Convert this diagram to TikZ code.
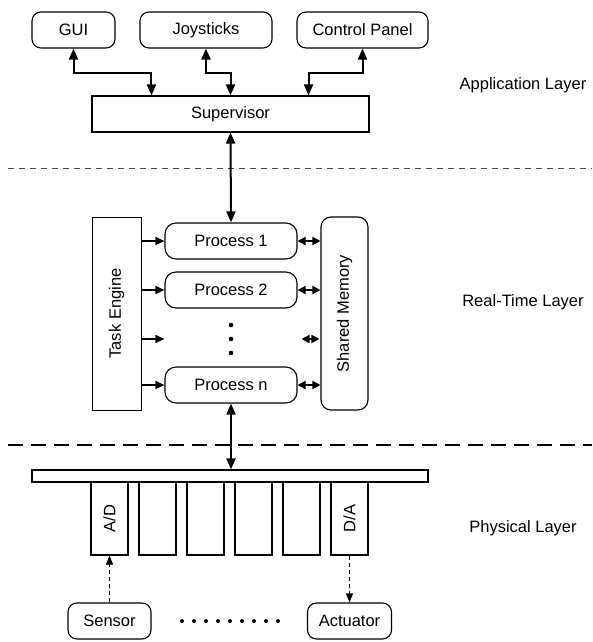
\documentclass[tikz,border=0pt]{standalone}
\usepackage{fontspec}
\setmainfont{Liberation Sans}
\usetikzlibrary{arrows.meta}

\begin{document}
\begin{tikzpicture}[x=1pt,y=-1pt,
  every node/.style={font=\fontsize{16.5}{19}\selectfont, inner sep=0pt},
  box/.style={draw, line width=1.1pt, rectangle},
  rbox/.style={box, rounded corners=9pt},
  dbl/.style={line width=2pt, {Triangle[length=11pt,width=9pt]}-{Triangle[length=11pt,width=9pt]}},
  sdbl/.style={line width=1.8pt, {Triangle[length=8pt,width=8pt]}-{Triangle[length=8pt,width=8pt]}},
  one/.style={line width=1.6pt, -{Triangle[length=9pt,width=8pt]}},
  sig/.style={line width=1.1pt, dash pattern=on 4pt off 3pt, -{Triangle[length=9pt,width=7pt]}},
  slot/.style={box, minimum width=37pt, minimum height=73pt},
  layer/.style={}
]
\useasboundingbox (0,0) rectangle (592,642);

% application layer
\node[rbox, minimum width=83pt, minimum height=36pt] (gui) at (73.5,30) {GUI};
\node[rbox, minimum width=132pt, minimum height=36pt] (joy) at (206,30) {Joysticks};
\node[rbox, minimum width=131pt, minimum height=36pt] (cp) at (362.5,30) {Control Panel};
\node[box, minimum width=277pt, minimum height=36pt] (sup) at (230.5,114) {Supervisor};

\draw[dbl] (gui.south) -- ++(0,24) -| ([xshift=60pt]sup.north west);
\draw[dbl] (joy.south) -- ++(0,24) -| (sup.north);
\draw[dbl] (cp.south) -- ++(0,24) -| ([xshift=-61pt]sup.north east);

\node[layer] (app) at (523,85) {Application Layer};

% layer separators
\draw[line width=1pt, gray!60!black, dash pattern=on 6pt off 5pt] (8,168) -- (592,168);
\draw[line width=1.3pt, dash pattern=on 15pt off 8pt] (8,445) -- (592,445);

% real-time layer
\node[box, line width=0.9pt, minimum width=49pt, minimum height=193pt] (te) at (116.5,313.5) {};
\node[rotate=90] at (te.center) {Task Engine};
\node[rbox, rounded corners=10pt, minimum width=47pt, minimum height=193pt] (sm) at (344.5,313.5) {};
\node[rotate=90] at (sm.center) {Shared Memory};

\node[rbox, rounded corners=11pt, minimum width=132pt, minimum height=36pt] (p1) at (231,241) {Process 1};
\node[rbox, rounded corners=11pt, minimum width=132pt, minimum height=36pt] (p2) at (231,290) {Process 2};
\node[rbox, rounded corners=11pt, minimum width=132pt, minimum height=36pt] (pn) at (231,385) {Process n};
\coordinate (dots) at (231,339);
\foreach \dy in {-14,0,14}
  \fill ([yshift=-\dy pt]dots) circle (2.3pt);

\draw[dbl] (sup.south) -- (p1.north);

\foreach \p in {p1,p2,pn} {
  \draw[one] (te.east |- \p.west) -- (\p.west);
  \draw[sdbl] (\p.east) -- (sm.west |- \p.east);
}
\draw[one] (te.east |- dots) -- (p1.west |- dots);
\draw[sdbl] ([xshift=4pt]p1.east |- dots) -- ([xshift=-1pt]sm.west |- dots);

\node[layer] (rt) at (523,302) {Real-Time Layer};

% physical layer
\node[box, minimum width=396pt, minimum height=12pt] (bus) at (230,476) {};
\draw[dbl] (pn.south) -- (bus.north -| pn.south);

\node[slot] (ad) at (109.5,518.5) {};
\node[rotate=90] at (ad.center) {A/D};
\node[slot] (s2) at (157.5,518.5) {};
\node[slot] (s3) at (205.5,518.5) {};
\node[slot] (s4) at (253.5,518.5) {};
\node[slot] (s5) at (301.5,518.5) {};
\node[slot] (da) at (349.5,518.5) {};
\node[rotate=90] at (da.center) {D/A};

\node[rbox, minimum width=83pt, minimum height=36pt] (sen) at (109.5,621) {Sensor};
\node[rbox, minimum width=84pt, minimum height=36pt] (act) at (349.5,621) {Actuator};

\draw[sig] (sen.north) -- (ad.south);
\draw[sig] (da.south) -- (act.north);

\foreach \k in {0,...,8}
  \fill (182+12*\k,621) circle (2pt);

\node[layer] (phy) at (523,528) {Physical Layer};
\end{tikzpicture}
\end{document}
